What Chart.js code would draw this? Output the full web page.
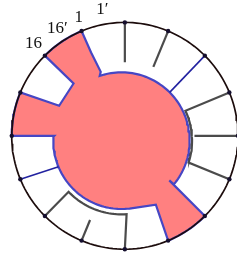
<!DOCTYPE html>
<html>
<head>
<meta charset="utf-8">
<script src="https://cdn.jsdelivr.net/npm/chart.js@4/dist/chart.umd.min.js"></script>
<style>
  html, body { margin: 0; padding: 0; background: #fff; }
  #c { display: block; }
</style>
</head>
<body>
<canvas id="c" width="241" height="261"></canvas>
<script>
// ring and disk sizes (px, ring centre is the origin)
const outerR = 117;
const diskCentre = [-3.5, -5];
const diskR = 70.5;

// marked points on the ring
const dotAngles = [90, 67.5, 45, 22.5, 0, -22.5, -45, -67.5, -90, -112.5, -135, -157.5, 180, 157.5, 135, 112.5];

// labels near the top left
const labelText = ['1\u2032', '1', '16\u2032', '16'];
const labelAngle = [100.1, 111.3, 122.2, 134.8];
const labelRadius = [132, 131, 131, 134];

// salmon outline, counter clockwise
// 'd' = arc on the disk (deg from, deg to), 'o' = arc on the ring, 'p' = free vertex (deg, radius)
const salmonPath = [
  ['d', -39.6, 108.6],
  ['p', 110.7, 70.6],
  ['p', 112.1, 92.8],
  ['o', 112.5, 135],
  ['p', 134.5, 75.7],
  ['p', 155.5, 74.7],
  ['o', 157.5, 180],
  ['p', 180, 73],
  ['d', 176.7, 276.8],
  ['p', 294.3, 77.9],
  ['o', 292.5, 315],
  ['p', 315, 65]
];

// blue spokes from the ring down to the disk
const blueSpokes = [45, 202.5];

// grey spokes that stop short: [deg, inner radius]
const greySpokes = [[90, 76], [67.5, 77], [0, 72], [-112.5, 94]];

// grey brackets: ring deg, arc round the disk from/to, ring deg, arc radius
const greyBrackets = [[22.5, 25, -18, -22.5, 73], [-135, 224, 274, -90, 76]];

const rad = d => d * Math.PI / 180;
const ringPt = (d, r) => ({ x: r * Math.cos(rad(d)), y: r * Math.sin(rad(d)) });
const diskPt = (d, r) => ({ x: diskCentre[0] + r * Math.cos(rad(d)), y: diskCentre[1] + r * Math.sin(rad(d)) });

function arc(fn, r, a0, a1) {
  const pts = [];
  const n = Math.max(2, Math.ceil(Math.abs(a1 - a0) / 2));
  for (let i = 0; i <= n; i++) pts.push(fn(a0 + (a1 - a0) * i / n, r));
  return pts;
}

let salmon = [];
salmonPath.forEach(s => {
  if (s[0] === 'd') salmon = salmon.concat(arc(diskPt, diskR, s[1], s[2]));
  else if (s[0] === 'o') salmon = salmon.concat(arc(ringPt, outerR, s[1], s[2]));
  else salmon.push(ringPt(s[1], s[2]));
});
salmon.push(salmon[0]);

const lineSet = (data, color, width) => ({
  data, showLine: true, borderColor: color, borderWidth: width,
  pointRadius: 0, fill: false, tension: 0
});

const datasets = [];
datasets.push({
  data: dotAngles.map(a => ringPt(a, outerR)),
  showLine: false, pointRadius: 2.2, pointBackgroundColor: '#150f2e', pointBorderWidth: 0
});
datasets.push(lineSet(arc(ringPt, outerR, 0, 360), '#1c0c0c', 1.7));
greySpokes.forEach(s => datasets.push(lineSet([ringPt(s[0], outerR), ringPt(s[0], s[1])], 'rgba(55,55,55,0.9)', 2.2)));
greyBrackets.forEach(b => {
  const pts = [ringPt(b[0], outerR)].concat(arc(diskPt, b[4], b[1], b[2]), [ringPt(b[3], outerR)]);
  datasets.push(lineSet(pts, 'rgba(55,55,55,0.9)', 2.2));
});
blueSpokes.forEach(a => datasets.push(lineSet([ringPt(a, outerR), diskPt(a, diskR)], '#2222a0', 1.6)));
datasets.push({
  data: salmon, showLine: true, fill: 'shape', backgroundColor: '#ff8080',
  borderColor: '#4646c4', borderWidth: 2.2, pointRadius: 0, tension: 0
});

const labelPlugin = {
  id: 'labels',
  afterDatasetsDraw(chart) {
    const { ctx, scales } = chart;
    ctx.save();
    ctx.font = '17px "Liberation Serif", serif';
    ctx.fillStyle = '#111';
    ctx.textAlign = 'center';
    ctx.textBaseline = 'middle';
    labelText.forEach((t, i) => {
      const p = ringPt(labelAngle[i], labelRadius[i]);
      ctx.fillText(t, scales.x.getPixelForValue(p.x), scales.y.getPixelForValue(p.y));
    });
    ctx.restore();
  }
};

new Chart(document.getElementById('c'), {
  type: 'scatter',
  data: { datasets },
  options: {
    responsive: false,
    animation: false,
    events: [],
    layout: { padding: 0 },
    plugins: { legend: { display: false }, tooltip: { enabled: false } },
    scales: {
      x: { type: 'linear', display: false, min: -125, max: 116 },
      y: { type: 'linear', display: false, min: -125, max: 136 }
    }
  },
  plugins: [labelPlugin]
});
</script>
</body>
</html>
